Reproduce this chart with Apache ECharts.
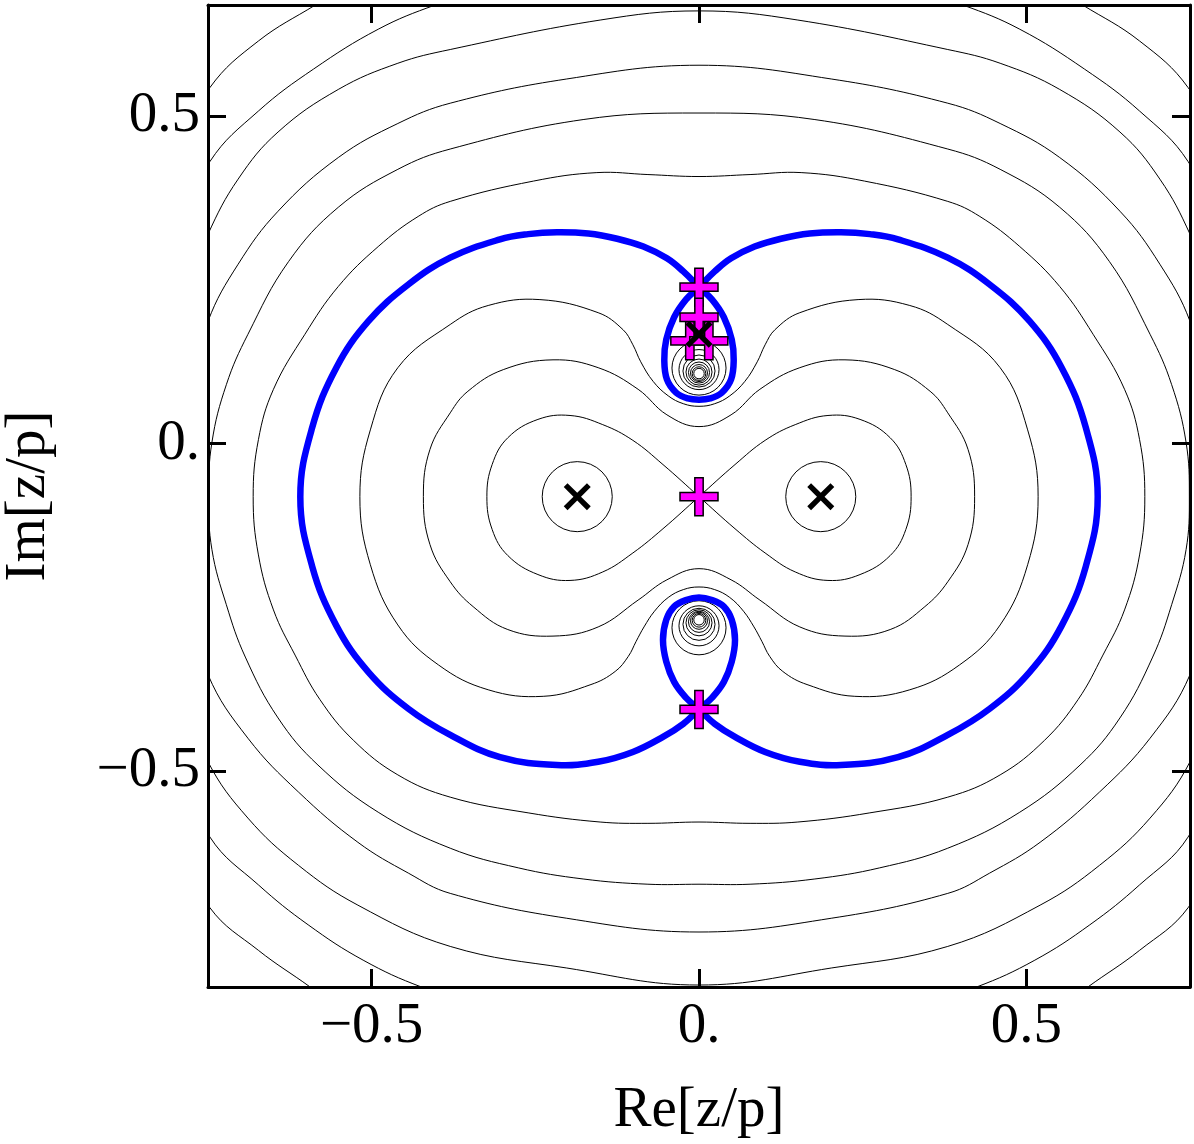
<!DOCTYPE html>
<html>
<head>
<meta charset="utf-8">
<title>Re[z/p] contours</title>
<script src="https://cdn.jsdelivr.net/npm/echarts@6/dist/echarts.min.js"></script>
<style>
  html, body { margin: 0; padding: 0; background: #fff; }
  #chart { width: 1194px; height: 1144px; }
</style>
</head>
<body>
<div id="chart"></div>
<script>
// tick labels
const xTickValues = [-0.5, 0, 0.5];
const xTickLabels = ['\u22120.5', '0.', '0.5'];
const yTickValues = [-0.5, 0, 0.5];
const yTickLabels = ['\u22120.5', '0.', '0.5'];

// level curves: right half only (x >= 0), listed top to bottom; the plot is mirror symmetric in x
const contourF = [[0,0.847],[0.307,0.801],[0.521,0.709],[0.586,0.670],[0.673,0.615],[0.747,0.544],[0.826,0.404],[0.887,0.159],[0.902,-0.081],[0.887,-0.323],[0.826,-0.567],[0.747,-0.709],[0.673,-0.774],[0.594,-0.830],[0.505,-0.896],[0.307,-0.972],[0,-1.018]];
const contourE = [[0,0.755],[0.231,0.728],[0.403,0.670],[0.490,0.633],[0.589,0.572],[0.673,0.508],[0.747,0.431],[0.811,0.297],[0.856,0.113],[0.872,-0.081],[0.856,-0.269],[0.811,-0.460],[0.747,-0.601],[0.673,-0.674],[0.597,-0.735],[0.513,-0.789],[0.424,-0.830],[0.231,-0.896],[0,-0.919]];
const contourD = [[0,0.661],[0.151,0.647],[0.380,0.602],[0.460,0.581],[0.551,0.541],[0.643,0.476],[0.704,0.404],[0.750,0.320],[0.803,0.190],[0.834,0.052],[0.841,-0.081],[0.834,-0.216],[0.803,-0.353],[0.750,-0.486],[0.689,-0.572],[0.612,-0.644],[0.521,-0.705],[0.380,-0.768],[0.202,-0.801],[0,-0.827]];
const contourC = [[0,0.578],[0.202,0.557],[0.380,0.520],[0.460,0.489],[0.551,0.437],[0.643,0.355],[0.704,0.274],[0.750,0.187],[0.783,0.067],[0.795,-0.081],[0.783,-0.231],[0.750,-0.353],[0.689,-0.450],[0.612,-0.532],[0.521,-0.609],[0.444,-0.656],[0.380,-0.687],[0.202,-0.725],[0,-0.746]];
const contourB = [[0,0.505],[0.177,0.495],[0.380,0.450],[0.460,0.419],[0.551,0.361],[0.627,0.278],[0.689,0.167],[0.722,0.090],[0.744,0.002],[0.749,-0.081],[0.744,-0.162],[0.722,-0.246],[0.693,-0.326],[0.643,-0.419],[0.582,-0.491],[0.490,-0.563],[0.380,-0.618],[0.276,-0.648],[0.177,-0.665],[0.078,-0.673],[0,-0.673]];
const contourA = [[0,0.408],[0.078,0.411],[0.156,0.414],[0.253,0.401],[0.380,0.370],[0.429,0.347],[0.490,0.301],[0.551,0.240],[0.602,0.167],[0.650,0.083],[0.673,0.006],[0.681,-0.081],[0.673,-0.170],[0.650,-0.254],[0.617,-0.323],[0.579,-0.391],[0.528,-0.453],[0.460,-0.506],[0.380,-0.540],[0.261,-0.564],[0.151,-0.578],[0.078,-0.580],[0,-0.578]];
const peanutOuter = [[0,0.057],[0.024,0.061],[0.047,0.073],[0.070,0.095],[0.089,0.125],[0.101,0.151],[0.116,0.174],[0.154,0.200],[0.243,0.220],[0.322,0.211],[0.380,0.182],[0.460,0.116],[0.502,0.021],[0.518,-0.081],[0.502,-0.185],[0.460,-0.277],[0.398,-0.338],[0.322,-0.376],[0.238,-0.386],[0.165,-0.368],[0.128,-0.348],[0.108,-0.325],[0.096,-0.302],[0.084,-0.280],[0.068,-0.256],[0.047,-0.235],[0.024,-0.223],[0,-0.219]];
const peanutInner = [[0,0.026],[0.049,0.044],[0.093,0.083],[0.154,0.116],[0.223,0.128],[0.299,0.113],[0.353,0.080],[0.380,0.047],[0.411,-0.009],[0.421,-0.081],[0.411,-0.154],[0.380,-0.211],[0.345,-0.249],[0.292,-0.284],[0.223,-0.294],[0.154,-0.280],[0.093,-0.239],[0.049,-0.208],[0,-0.191]];
// right lobe of the figure eight through the saddle at (0, -0.081)
const lemniscateRight = [[0,-0.081],[0.055,-0.032],[0.101,0.005],[0.147,0.029],[0.197,0.043],[0.246,0.037],[0.292,0.009],[0.316,-0.032],[0.324,-0.081],[0.316,-0.131],[0.292,-0.171],[0.246,-0.200],[0.197,-0.209],[0.147,-0.196],[0.101,-0.167],[0.055,-0.130],[0,-0.081]];

// blue separatrix: outer arc saddle to saddle, and the two teardrops
const blueOuterRight = [[0,0.239],[0.024,0.263],[0.049,0.283],[0.085,0.301],[0.125,0.313],[0.169,0.321],[0.217,0.323],[0.261,0.320],[0.304,0.312],[0.380,0.284],[0.444,0.243],[0.505,0.187],[0.554,0.116],[0.591,0.024],[0.609,-0.081],[0.591,-0.187],[0.554,-0.278],[0.505,-0.349],[0.444,-0.405],[0.380,-0.445],[0.304,-0.479],[0.217,-0.491],[0.154,-0.486],[0.101,-0.471],[0.055,-0.448],[0.024,-0.428],[0,-0.406]];
const blueTopTear = [[0,0.239],[0.020,0.220],[0.038,0.193],[0.050,0.159],[0.053,0.128],[0.049,0.098],[0.035,0.078],[0.017,0.069],[0,0.067]];
const blueBottomTear = [[0,-0.235],[0.020,-0.239],[0.038,-0.249],[0.050,-0.269],[0.055,-0.300],[0.050,-0.333],[0.038,-0.364],[0.020,-0.388],[0,-0.406]];

// small closed rings [x, y, radius]
const poleRings = [[0.186,-0.081,0.0535],[-0.186,-0.081,0.0535]];
const topRings = [[0,0.1154,0.0413],[0,0.1131,0.0306],[0,0.1109,0.0245],[0,0.1093,0.0199],[0,0.1086,0.0161],[0,0.1078,0.0130],[0,0.1070,0.0104],[0,0.1070,0.0080]];
const bottomRings = [[0,-0.2813,0.0413],[0,-0.2783,0.0306],[0,-0.2760,0.0245],[0,-0.2737,0.0199],[0,-0.2722,0.0161],[0,-0.2706,0.0130],[0,-0.2699,0.0104],[0,-0.2691,0.0080]];

// markers
const plusPoints = [[0,0.239],[0,0.193],[-0.014,0.157],[0.015,0.157],[0,-0.081],[0,-0.406]];
const crossPoints = [[-0.186,-0.081],[0.186,-0.081],[0,0.167]];

function mirror(p) { return [-p[0], p[1]]; }
function closedLoop(half) {
  return half.concat(half.slice(1, -1).reverse().map(mirror));
}
function figureEight(lobe) {
  const inner = lobe.slice(1, -1);
  return [lobe[0]].concat(inner, [lobe[0]], inner.map(mirror));
}
function separatrix() {
  const st = blueOuterRight[0];
  const sb = blueOuterRight[blueOuterRight.length - 1];
  const outerR = blueOuterRight.slice(1, -1);
  const outerL = outerR.slice().reverse().map(mirror);
  const btIn = blueBottomTear.slice(1, -1);
  const ttIn = blueTopTear.slice(1, -1);
  return [st].concat(
    outerR, [sb],
    btIn.slice().reverse().map(mirror), [blueBottomTear[0]], btIn, [sb],
    outerL, [st],
    ttIn, [blueTopTear[blueTopTear.length - 1]], ttIn.slice().reverse().map(mirror)
  );
}

const blackLoops = [contourF, contourE, contourD, contourC, contourB, contourA, peanutOuter, peanutInner]
  .map(closedLoop)
  .concat([figureEight(lemniscateRight)]);
const blueLoops = [separatrix()];
const rings = poleRings.concat(topRings, bottomRings);

function loopSeries(loops, color, width, z) {
  return {
    type: 'custom',
    coordinateSystem: 'cartesian2d',
    clip: true,
    silent: true,
    z: z,
    data: loops.map(function () { return [0, 0]; }),
    renderItem: function (params, api) {
      const pts = loops[params.dataIndex].map(function (p) { return api.coord(p); });
      return {
        type: 'polygon',
        shape: { points: pts, smooth: 0.4 },
        style: { fill: 'none', stroke: color, lineWidth: width }
      };
    }
  };
}

const serif = 'Liberation Serif';
function tickFormatter(values, labels) {
  return function (v) {
    const i = values.findIndex(function (t) { return Math.abs(t - v) < 1e-9; });
    return i >= 0 ? labels[i] : '';
  };
}
const frameLine = { onZero: false, lineStyle: { color: '#000', width: 3 } };
const tickStyle = { inside: true, length: 18, lineStyle: { color: '#000', width: 3 } };

const chart = echarts.init(document.getElementById('chart'));
chart.setOption({
  animation: false,
  backgroundColor: '#fff',
  grid: { left: 208, right: 4, top: 5, bottom: 157, containLabel: false, outerBoundsMode: 'none' },
  xAxis: [
    {
      type: 'value', min: -0.75, max: 0.75, position: 'bottom', z: 10,
      axisLine: frameLine,
      axisTick: Object.assign({ customValues: xTickValues }, tickStyle),
      axisLabel: {
        customValues: xTickValues, formatter: tickFormatter(xTickValues, xTickLabels),
        margin: 12, fontFamily: serif, fontSize: 57, color: '#000'
      },
      splitLine: { show: false },
      name: 'Re[z/p]', nameLocation: 'middle', nameGap: 96,
      nameTextStyle: { fontFamily: serif, fontSize: 57, color: '#000' }
    },
    {
      type: 'value', min: -0.75, max: 0.75, position: 'top', z: 10,
      axisLine: frameLine,
      axisTick: Object.assign({ customValues: xTickValues }, tickStyle),
      axisLabel: { show: false },
      splitLine: { show: false }
    }
  ],
  yAxis: [
    {
      type: 'value', min: -0.83, max: 0.67, position: 'left', z: 10,
      axisLine: frameLine,
      axisTick: Object.assign({ customValues: yTickValues }, tickStyle),
      axisLabel: {
        customValues: yTickValues, formatter: tickFormatter(yTickValues, yTickLabels),
        margin: 8, fontFamily: serif, fontSize: 57, color: '#000'
      },
      splitLine: { show: false },
      name: 'Im[z/p]', nameLocation: 'middle', nameGap: 150, nameRotate: 90,
      nameTextStyle: { fontFamily: serif, fontSize: 57, color: '#000' }
    },
    {
      type: 'value', min: -0.83, max: 0.67, position: 'right', z: 10,
      axisLine: frameLine,
      axisTick: Object.assign({ customValues: yTickValues }, tickStyle),
      axisLabel: { show: false },
      splitLine: { show: false }
    }
  ],
  series: [
    loopSeries(blackLoops, '#000', 1, 2),
    {
      type: 'custom',
      coordinateSystem: 'cartesian2d',
      clip: true,
      silent: true,
      z: 2,
      data: rings.map(function () { return [0, 0]; }),
      renderItem: function (params, api) {
        const r = rings[params.dataIndex];
        const c = api.coord([r[0], r[1]]);
        const s = api.size([r[2], r[2]]);
        return {
          type: 'circle',
          shape: { cx: c[0], cy: c[1], r: (s[0] + s[1]) / 2 },
          style: { fill: 'none', stroke: '#000', lineWidth: 1 }
        };
      }
    },
    loopSeries(blueLoops, '#0000ff', 6.5, 3),
    {
      type: 'scatter',
      data: plusPoints,
      symbol: 'path://M39,0 H61 V39 H100 V61 H61 V100 H39 V61 H0 V39 H39 Z',
      symbolSize: 38,
      silent: true,
      z: 4,
      itemStyle: { color: '#ff00ff', borderColor: '#000', borderWidth: 1.5, opacity: 1 }
    },
    {
      type: 'scatter',
      data: crossPoints,
      symbol: 'path://M0,14 L14,0 L50,36 L86,0 L100,14 L64,50 L100,86 L86,100 L50,64 L14,100 L0,86 L36,50 Z',
      symbolSize: 27,
      silent: true,
      z: 5,
      itemStyle: { color: '#000', opacity: 1 }
    }
  ]
});
</script>
</body>
</html>
